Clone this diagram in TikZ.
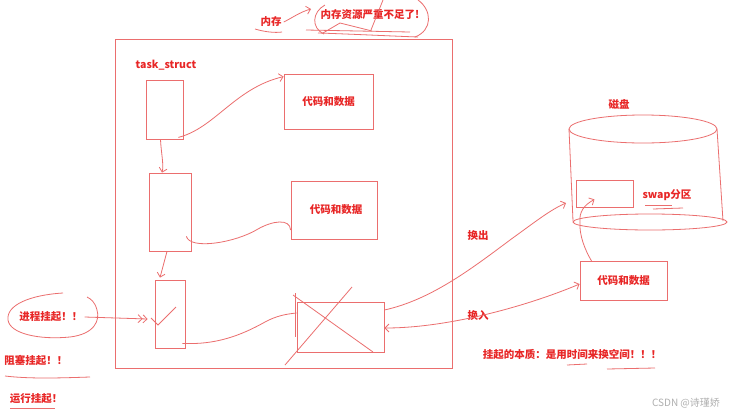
\documentclass[tikz,border=0pt]{standalone}
\usepackage{fontspec}
\newfontfamily\cjk{Noto Sans CJK SC}
\usetikzlibrary{arrows.meta}
\definecolor{txtred}{RGB}{232,38,38}
\definecolor{ln}{RGB}{235,110,110}
\definecolor{wm}{RGB}{175,175,175}
\begin{document}
\begin{tikzpicture}[x=1pt,y=-1pt,
  lbl/.style={text=txtred, font=\cjk\bfseries\fontsize{10.5pt}{12pt}\selectfont, inner sep=0},
  bx/.style={draw=ln, line width=0.8pt, inner sep=0, text=txtred, font=\cjk\bfseries\fontsize{10.5pt}{12pt}\selectfont},
  con/.style={draw=ln, line width=0.8pt, -{Straight Barb[length=4pt,width=8pt]}},
  pen/.style={draw=ln, line width=0.8pt},
]
\fill[white] (0,0) rectangle (740,416);
\useasboundingbox (0,0) rectangle (740,416);

% memory box
\node[bx, minimum width=337pt, minimum height=329pt] (mem) at (283.5,203.5) {};
\node[lbl] (neicun) at (271,22) {内存};
\node[lbl] (buzu) at (370,15) {内存资源严重不足了!};
\node[lbl] (ts) at (166,65) {task\_struct};
\node[bx, minimum width=37pt, minimum height=59pt] (t1) at (164.5,109.5) {};
\node[bx, minimum width=89pt, minimum height=55pt] (c1) at (328.5,101.5) {\raisebox{-2pt}{代码和数据}};
\node[bx, minimum width=42pt, minimum height=78pt] (t2) at (170,212) {};
\node[bx, minimum width=86pt, minimum height=58pt] (c2) at (334,210) {\hspace*{4pt}\raisebox{-5pt}{代码和数据}};
\node[bx, minimum width=30pt, minimum height=68pt] (t3) at (170,314) {};
\node[bx, minimum width=87pt, minimum height=50pt] (xb) at (340.5,327) {};
\draw[pen] (295,293) -- (295,337);
\draw[pen] (293,295) -- (373,352);
\draw[pen] (352,287) -- (285,365);
\draw[pen] (151,318) -- (158,325) -- (176,307);

% disk
\draw[pen] (643,129) ellipse [x radius=74, y radius=14];
\draw[pen] (650,222) ellipse [x radius=77, y radius=8];
\draw[pen] (569,129) -- (573,221);
\draw[pen] (717,129) -- (723,221);
\coordinate (dl) at (566,203);
\coordinate (db) at (580,222);
\node[bx, minimum width=57pt, minimum height=27pt] (swap) at (604.5,193.5) {};
\node[lbl] (swaplbl) at (667,195) {swap分区};
\node[lbl] (disk) at (619,104) {磁盘};
\node[bx, minimum width=87pt, minimum height=39pt] (c3) at (623.5,281) {\raisebox{-4pt}{代码和数据}};
\node[lbl] (out) at (478,236) {换出};
\node[lbl] (in) at (478,315) {换入};

% left labels
\node[lbl] (jc) at (51,317) {进程挂起！！};
\node[lbl] (zs) at (36,360) {阻塞挂起！！};
\node[lbl] (yx) at (36,399) {运行挂起！};
\node[lbl] (bz) at (572,355) {挂起的本质：是用时间来换空间！！！};
\node[text=wm, font=\cjk\fontsize{10pt}{12pt}\selectfont, inner sep=0] (csdn) at (686,403) {CSDN @诗瑾娇};

% connectors
\draw[con] ([xshift=-5pt,yshift=2pt]t1.south east) .. controls (215,128) and (235,88) .. ([yshift=-3pt]c1.north west);
\draw[con] ([xshift=-4pt]t1.south) .. controls (161,152) and (164,165) .. ([xshift=-8pt]t2.north);
\draw[pen] ([xshift=-5pt,yshift=15pt]t2.south east) .. controls (190,250) and (235,243) .. (258,229) .. controls (272,221) and (290,218) .. ([yshift=-20pt]c2.west);
\draw[con] ([xshift=-3pt]t2.south) -- ([xshift=-10pt,yshift=2pt]t3.north);
\draw[pen] ([xshift=-3pt,yshift=5pt]t3.south east) .. controls (215,345) and (240,336) .. (265,322) .. controls (276,316) and (286,314) .. ([yshift=14pt]xb.west);
\draw[draw=ln, line width=0.8pt, -{Straight Barb[length=4pt,width=8pt] Straight Barb[length=4pt,width=8pt]}] ([xshift=2pt]jc.east) -- ([xshift=-7pt,yshift=-5pt]t3.west);
\draw[con] ([yshift=17pt]xb.east) .. controls (430,300) and (470,270) .. (510,240) .. controls (535,222) and (550,210) .. (dl);
\draw[con] (db) .. controls (579,212) and (584,205) .. ([xshift=-10pt,yshift=8pt]swap.south);
\draw[draw=ln, line width=0.8pt, {Straight Barb[length=4pt,width=8pt]}-{Straight Barb[length=4pt,width=8pt]}] ([yshift=-3pt]c3.west) .. controls (530,305) and (450,328) .. ([yshift=-1pt]xb.east);
\draw[pen] ([xshift=12pt]c3.north west) .. controls (585,250) and (579,235) .. (db);
\coordinate (ov) at (311,9);
\draw[con] ([xshift=2pt]neicun.east) .. controls (292,18) and (300,12) .. (ov);

% hand-drawn marks
\draw[pen] (255,29) .. controls (265,32) and (275,33) .. (282,32);
\draw[pen] (325,5) .. controls (312,12) and (311,28) .. (324,34);
\draw[pen] (418,0) .. controls (432,10) and (433,30) .. (415,37);
\draw[pen] (306,30) -- (410,32);
\draw[pen] (318,33) .. controls (350,34) and (390,36) .. (418,37);
\draw[pen] (323,33) -- (340,23) -- (372,31);
\draw[pen] (383,0) -- (371,30);
\draw[pen] (63,293) .. controls (30,295) and (6,305) .. (8,320) .. controls (10,334) and (40,340) .. (70,337) .. controls (95,334) and (100,320) .. (97,310) .. controls (95,302) and (91,299) .. (87,297);
\draw[pen] (5,376) .. controls (30,379) and (60,378) .. (90,377);
\draw[pen] (10,408) -- (55,408);
\draw[pen] (645,205) -- (672,205);
\draw[pen] (653,209) -- (683,208);
\draw[pen] (567,365) -- (587,364);
\draw[pen] (607,369) -- (655,368);
\end{tikzpicture}
\end{document}
